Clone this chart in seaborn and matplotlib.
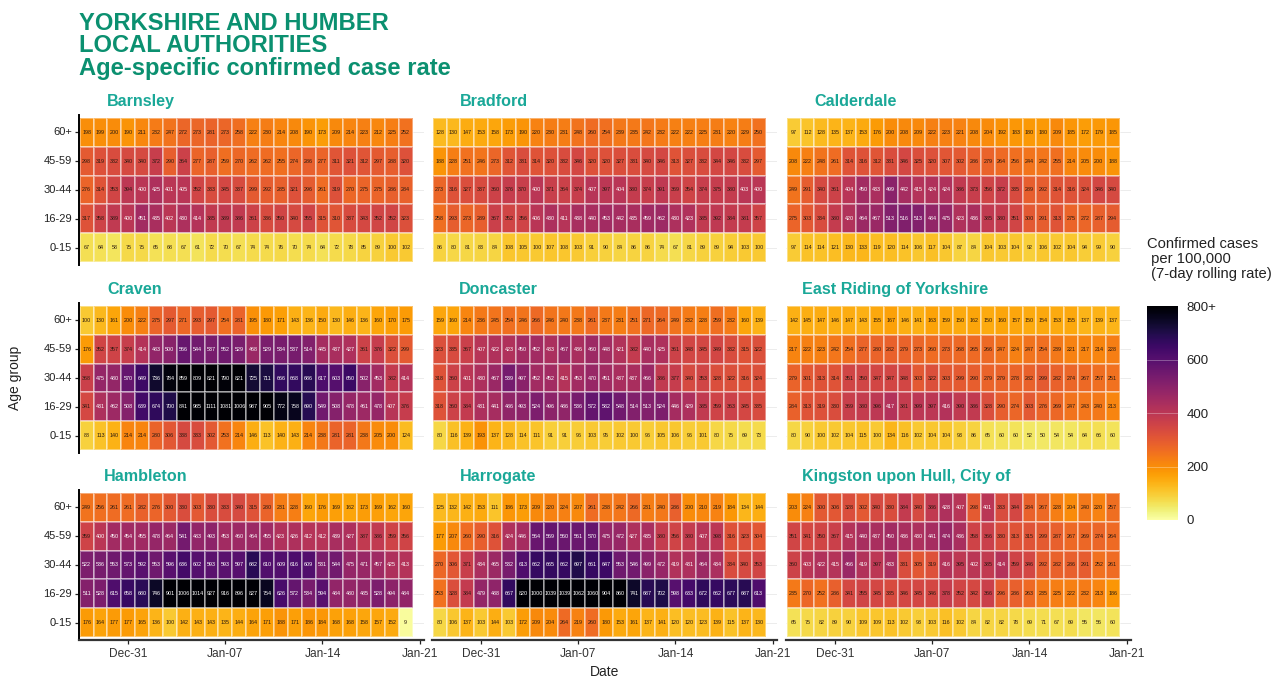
import matplotlib
matplotlib.use('Agg')
import matplotlib.pyplot as plt
import pandas as pd
import seaborn as sns

# Weekly rolling rates, rows are age groups from old to young
age_groups = ['60+', '45-59', '30-44', '16-29', '0-15']
dates = pd.date_range('2020-12-28', '2021-01-20')
tick_labels = ['Dec-31', 'Jan-07', 'Jan-14', 'Jan-21']
tick_dates = pd.to_datetime(['2020-12-31', '2021-01-07', '2021-01-14', '2021-01-21'])

barnsley = [
    [198, 199, 200, 190, 211, 232, 247, 272, 273, 281, 273, 258, 222, 230, 214, 208, 190, 173, 209, 214, 223, 212, 225, 252],
    [298, 319, 332, 340, 340, 372, 290, 364, 277, 287, 259, 270, 262, 262, 255, 274, 286, 277, 311, 321, 312, 297, 288, 320],
    [276, 314, 353, 394, 400, 425, 401, 405, 352, 333, 345, 337, 299, 292, 285, 321, 296, 261, 319, 270, 275, 275, 286, 284],
    [317, 358, 389, 400, 451, 435, 402, 430, 414, 385, 389, 386, 361, 336, 350, 340, 355, 315, 310, 337, 343, 352, 352, 323],
    [67, 64, 58, 75, 75, 65, 68, 67, 61, 72, 70, 67, 74, 74, 76, 70, 74, 64, 72, 78, 85, 89, 100, 102],
]
bradford = [
    [128, 130, 147, 153, 158, 173, 190, 220, 230, 231, 248, 260, 254, 239, 235, 242, 232, 222, 222, 225, 231, 220, 229, 250],
    [188, 228, 251, 246, 273, 312, 331, 314, 320, 332, 346, 320, 320, 327, 331, 340, 346, 313, 327, 332, 344, 346, 332, 297],
    [273, 316, 327, 337, 360, 376, 370, 400, 371, 364, 374, 407, 397, 404, 380, 374, 391, 369, 354, 374, 375, 380, 403, 400],
    [258, 293, 273, 289, 367, 352, 356, 406, 430, 411, 438, 440, 453, 442, 435, 459, 462, 430, 423, 385, 392, 384, 381, 357],
    [86, 80, 81, 83, 84, 108, 105, 100, 107, 108, 103, 91, 90, 84, 86, 86, 74, 67, 81, 89, 89, 94, 103, 100],
]
calderdale = [
    [97, 112, 128, 135, 137, 153, 176, 200, 208, 209, 222, 223, 221, 208, 204, 192, 183, 180, 180, 209, 185, 172, 179, 185],
    [208, 222, 248, 261, 314, 316, 312, 331, 346, 325, 320, 307, 302, 286, 279, 264, 256, 244, 242, 255, 214, 205, 200, 188],
    [249, 291, 340, 361, 404, 450, 433, 499, 442, 415, 424, 424, 386, 373, 356, 372, 335, 289, 292, 314, 316, 324, 346, 340],
    [275, 303, 334, 380, 420, 464, 467, 513, 516, 513, 484, 475, 423, 436, 385, 380, 351, 300, 291, 313, 275, 272, 287, 294],
    [97, 114, 114, 121, 130, 133, 119, 120, 114, 106, 117, 104, 87, 84, 104, 103, 104, 92, 106, 102, 104, 94, 99, 90],
]
craven = [
    [100, 130, 161, 200, 222, 275, 297, 271, 293, 297, 254, 281, 195, 180, 171, 143, 136, 150, 130, 146, 136, 160, 170, 175],
    [176, 352, 357, 374, 414, 483, 500, 566, 544, 537, 552, 529, 468, 529, 534, 537, 514, 445, 437, 427, 361, 376, 322, 299],
    [368, 475, 480, 570, 649, 736, 784, 859, 809, 821, 790, 821, 725, 711, 666, 668, 686, 617, 603, 650, 502, 453, 382, 414],
    [341, 431, 462, 508, 639, 674, 700, 841, 985, 1111, 1081, 1006, 987, 905, 772, 758, 690, 549, 508, 478, 461, 478, 407, 376],
    [88, 113, 140, 214, 214, 280, 306, 338, 333, 302, 253, 214, 146, 113, 140, 143, 214, 238, 281, 281, 238, 205, 200, 124],
]
doncaster = [
    [159, 160, 214, 236, 245, 254, 246, 266, 246, 240, 238, 261, 237, 231, 251, 271, 264, 249, 232, 228, 259, 232, 160, 139],
    [323, 335, 367, 407, 422, 423, 450, 452, 433, 467, 436, 460, 448, 421, 382, 440, 425, 361, 348, 345, 349, 332, 315, 322],
    [318, 360, 401, 430, 467, 539, 497, 452, 452, 415, 453, 470, 451, 437, 437, 466, 386, 377, 340, 353, 328, 322, 316, 324],
    [318, 360, 384, 431, 441, 486, 493, 524, 496, 486, 536, 572, 582, 548, 514, 513, 524, 446, 429, 385, 359, 363, 345, 335],
    [80, 116, 139, 193, 137, 128, 114, 111, 91, 91, 96, 103, 95, 102, 100, 96, 105, 106, 96, 101, 80, 75, 69, 73],
]
east_riding = [
    [142, 145, 147, 146, 147, 143, 155, 167, 146, 141, 163, 159, 150, 162, 150, 160, 157, 150, 154, 153, 155, 137, 139, 137],
    [217, 222, 223, 242, 254, 277, 280, 282, 279, 273, 260, 273, 268, 265, 266, 247, 224, 247, 254, 239, 221, 217, 214, 228],
    [279, 301, 313, 314, 351, 350, 347, 347, 348, 303, 322, 303, 299, 290, 279, 279, 278, 282, 299, 282, 274, 267, 257, 251],
    [284, 313, 319, 330, 369, 380, 396, 417, 381, 399, 397, 416, 390, 386, 328, 290, 274, 303, 276, 269, 247, 243, 240, 213],
    [80, 90, 100, 102, 104, 115, 100, 134, 116, 102, 104, 104, 93, 86, 65, 60, 60, 52, 50, 54, 54, 64, 66, 60],
]
hambleton = [
    [249, 256, 261, 261, 282, 276, 300, 330, 303, 330, 333, 340, 315, 280, 231, 228, 160, 176, 169, 162, 173, 169, 162, 160],
    [359, 400, 450, 454, 455, 478, 464, 541, 483, 493, 453, 460, 464, 455, 423, 426, 412, 412, 439, 427, 387, 386, 359, 356],
    [522, 536, 553, 573, 592, 553, 596, 636, 602, 593, 593, 597, 682, 610, 609, 616, 609, 531, 544, 475, 471, 457, 425, 413],
    [511, 528, 615, 658, 680, 746, 901, 1006, 1014, 927, 916, 896, 827, 754, 626, 572, 534, 594, 484, 480, 485, 528, 494, 484],
    [176, 164, 177, 177, 165, 136, 100, 142, 143, 143, 135, 144, 164, 171, 188, 171, 186, 184, 168, 168, 158, 157, 152, 9],
]
harrogate = [
    [125, 132, 142, 153, 111, 186, 173, 209, 220, 224, 207, 261, 238, 242, 266, 231, 240, 286, 200, 210, 219, 184, 134, 144],
    [177, 207, 260, 290, 316, 424, 446, 564, 569, 560, 561, 570, 475, 472, 427, 435, 380, 356, 380, 407, 398, 316, 323, 304],
    [270, 306, 371, 434, 465, 532, 613, 662, 665, 662, 697, 661, 647, 553, 546, 499, 472, 419, 431, 464, 434, 334, 340, 353],
    [253, 328, 384, 479, 488, 667, 820, 1000, 1039, 1039, 1062, 1060, 904, 860, 741, 687, 702, 598, 633, 672, 662, 677, 687, 613],
    [80, 106, 137, 103, 144, 103, 172, 209, 204, 264, 219, 260, 180, 153, 161, 137, 141, 120, 120, 123, 139, 115, 137, 130],
]
hull = [
    [203, 224, 300, 306, 328, 302, 340, 330, 384, 340, 386, 428, 407, 298, 401, 333, 344, 284, 267, 228, 204, 240, 220, 257],
    [351, 341, 350, 367, 415, 440, 437, 450, 436, 430, 441, 474, 436, 358, 366, 330, 313, 315, 299, 287, 267, 269, 274, 264],
    [360, 403, 422, 415, 466, 419, 397, 433, 331, 305, 319, 416, 395, 402, 385, 414, 359, 346, 292, 282, 286, 291, 252, 261],
    [235, 270, 252, 286, 341, 355, 345, 335, 346, 345, 346, 378, 352, 342, 366, 296, 286, 263, 235, 225, 222, 232, 213, 186],
    [65, 75, 82, 89, 90, 109, 109, 113, 102, 93, 103, 116, 102, 84, 82, 82, 78, 69, 71, 67, 69, 55, 56, 60],
]

panels = [
    ('Barnsley', barnsley), ('Bradford', bradford), ('Calderdale', calderdale),
    ('Craven', craven), ('Doncaster', doncaster), ('East Riding of Yorkshire', east_riding),
    ('Hambleton', hambleton), ('Harrogate', harrogate), ('Kingston upon Hull, City of', hull),
]

sns.set_theme(style='white')
plt.rcParams['font.family'] = ['Liberation Sans', 'DejaVu Sans']

W, H = 1285, 679
fig = plt.figure(figsize=(W / 100, H / 100), dpi=100)


def px_axes(x0, y0, x1, y1):
    # axes from pixel box, y measured from the top of the picture
    return fig.add_axes([x0 / W, 1 - y1 / H, (x1 - x0) / W, (y1 - y0) / H])


col_x = [79, 432, 786]
row_y = [115, 303, 490]
# panel titles start at slightly different spots in the original
title_x = [107, 460, 814, 107, 459, 802, 104, 460, 802]

cax = px_axes(1147, 306, 1178, 520)

for i, (place, values) in enumerate(panels):
    row, col = divmod(i, 3)
    ax = px_axes(col_x[col], row_y[row], col_x[col] + 345, row_y[row] + 150)
    df = pd.DataFrame(values, index=age_groups, columns=dates)

    sns.heatmap(df, ax=ax, cmap='inferno_r', vmin=0, vmax=800,
                annot=True, fmt='d', annot_kws={'fontsize': 3.9},
                linewidths=0.3, linecolor='white',
                cbar=i == 0, cbar_ax=cax if i == 0 else None)
    # cell borders are only a faint line in the original
    ax.collections[0].set_edgecolor((1, 1, 1, 0.4))

    # light labels on the dark cells only
    for txt in ax.texts:
        txt.set_color('white' if int(txt.get_text()) >= 400 else '#2a1a10')

    ax.set_xlim(-0.05, 24.82)
    ax.set_ylim(5.1, -0.1)
    ax.set_xlabel('')
    ax.set_ylabel('')

    # faint guide lines show past the last cell
    ax.set_axisbelow(True)
    ax.yaxis.grid(True, color='#ececec', linewidth=0.7)
    ax.xaxis.grid(False)

    ticks = [(d - dates[0]).days + 0.5 for d in tick_dates]
    ax.set_yticks([j + 0.5 for j in range(5)])
    ax.set_xticks(ticks)

    for side in ['top', 'right', 'left', 'bottom']:
        ax.spines[side].set_visible(False)

    if col == 0:
        ax.set_yticklabels(age_groups, rotation=0, fontsize=8, color='#222222')
        ax.spines['left'].set_visible(True)
        ax.spines['left'].set_color('black')
        ax.spines['left'].set_linewidth(1.4)
        ax.tick_params(axis='y', length=3, width=0.9, color='#222222', pad=2, left=True)
    else:
        ax.set_yticklabels([])
        ax.tick_params(axis='y', length=0)

    if row == 2:
        ax.set_xticklabels(tick_labels, rotation=0, fontsize=8.6, color='#333333')
        ax.spines['bottom'].set_visible(True)
        ax.spines['bottom'].set_color('#333333')
        ax.spines['bottom'].set_linewidth(1.6)
        ax.tick_params(axis='x', length=3, width=0.9, color='#222222', pad=3, bottom=True)
    else:
        ax.set_xticklabels([])
        ax.tick_params(axis='x', length=0)

    fig.text(title_x[i] / W, 1 - (row_y[row] - 9) / H, place,
             fontsize=11.6, fontweight='bold', color='#1aa898', va='baseline', ha='left')

# shared colour scale on the right
cax.set_yticks([0, 200, 400, 600, 800])
cax.set_yticklabels(['0', '200', '400', '600', '800+'], fontsize=9.5, color='#222222')
cax.tick_params(axis='y', length=0, pad=6)
for spine in cax.spines.values():
    spine.set_visible(False)
for v in [200, 400, 600]:
    cax.axhline(v, color='white', alpha=0.35, linewidth=0.6)

fig.text(1147 / W, 1 - 259 / H, 'Confirmed cases\n per 100,000\n (7-day rolling rate)',
         fontsize=10.6, color='#222222', va='center', ha='left', linespacing=1.12)

fig.text(79 / W, 1 - 46 / H,
         'YORKSHIRE AND HUMBER\nLOCAL AUTHORITIES\nAge-specific confirmed case rate',
         fontsize=17.1, fontweight='bold', color='#0b9070', va='center', ha='left', linespacing=0.97)

fig.text(605 / W, 1 - 672 / H, 'Date', fontsize=10, color='#222222', ha='center', va='center')
fig.text(15 / W, 1 - 378 / H, 'Age group', fontsize=10, color='#222222',
         rotation=90, ha='center', va='center')

fig.savefig('out.png', dpi=100)
